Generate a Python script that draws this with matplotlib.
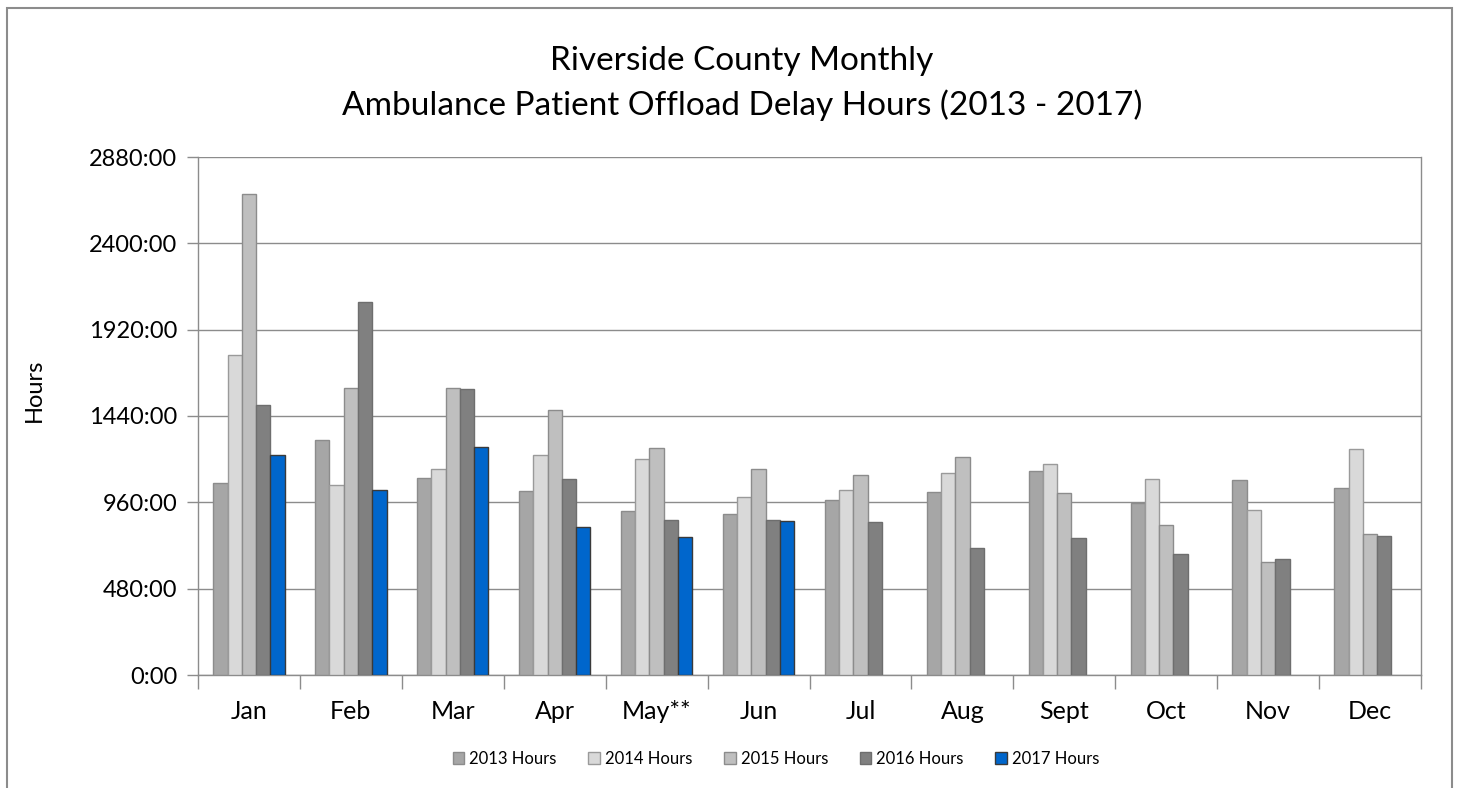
import numpy as np
import matplotlib.pyplot as plt
from matplotlib.patches import Rectangle
from matplotlib.ticker import FixedLocator, FuncFormatter

plt.rcParams['font.family'] = ['Lato', 'DejaVu Sans']

months = ['Jan', 'Feb', 'Mar', 'Apr', 'May**', 'Jun', 'Jul', 'Aug', 'Sept', 'Oct', 'Nov', 'Dec']
series_names = ['2013 Hours', '2014 Hours', '2015 Hours', '2016 Hours', '2017 Hours']

hours_2013 = [1065, 1307, 1094, 1023, 912, 897, 975, 1017, 1134, 954, 1084, 1041]
hours_2014 = [1778, 1058, 1146, 1222, 1203, 991, 1027, 1125, 1175, 1090, 919, 1255]
hours_2015 = [2677, 1596, 1596, 1472, 1260, 1147, 1112, 1212, 1010, 834, 626, 782]
hours_2016 = [1500, 2075, 1588, 1088, 862, 862, 849, 706, 762, 671, 647, 771]
hours_2017 = [1222, 1031, 1267, 822, 769, 854]

colors = ['#a6a6a6', '#d9d9d9', '#bfbfbf', '#808080', '#0066cc']
edges = ['#8c8c8c', '#9a9a9a', '#8c8c8c', '#6e6e6e', '#3a3a3a']

fig = plt.figure(figsize=(14.61, 7.88), dpi=100)
ax = fig.add_axes([198 / 1461, 1 - 675 / 788, (1421 - 198) / 1461, (675 - 157) / 788])

x = np.arange(len(months))
width = 0.14
all_series = [hours_2013, hours_2014, hours_2015, hours_2016, hours_2017]
for i, vals in enumerate(all_series):
    xs = x[:len(vals)] + (i - 2) * width
    ax.bar(xs, vals, width=width, color=colors[i], edgecolor=edges[i],
           linewidth=1.0, label=series_names[i], zorder=3)

ax.set_xlim(-0.5, 11.5)
ax.set_ylim(0, 2880)
yt = [0, 480, 960, 1440, 1920, 2400, 2880]
ax.yaxis.set_major_locator(FixedLocator(yt))
ax.yaxis.set_major_formatter(FuncFormatter(lambda v, p: f"{int(v)}:00"))
ax.grid(axis='y', color='#8c8c8c', linewidth=1.0, zorder=0)

ax.set_xticks(x)
ax.set_xticklabels(months, fontsize=18)
ax.tick_params(axis='x', which='major', length=0, pad=18)
ax.set_xticks(np.arange(-0.5, 12, 1), minor=True)
ax.tick_params(axis='x', which='minor', length=10, color='#8c8c8c', width=1)
ax.tick_params(axis='y', length=8, color='#8c8c8c', width=1, labelsize=17, pad=7)

for s in ['left', 'bottom', 'right']:
    ax.spines[s].set_color('#8c8c8c')
    ax.spines[s].set_linewidth(1.0)
ax.spines['top'].set_visible(False)

ax.set_ylabel('Hours', fontsize=17)
ax.yaxis.set_label_coords(-0.125, 0.55)

fig.text(742 / 1461, 1 - 61 / 788, 'Riverside County Monthly', ha='center', va='center', fontsize=24)
fig.text(742 / 1461, 1 - 105 / 788, 'Ambulance Patient Offload Delay Hours (2013 - 2017)',
         ha='center', va='center', fontsize=24)

leg = fig.legend(loc='center', bbox_to_anchor=(776 / 1461, 1 - 759 / 788), ncol=5, frameon=False,
                 fontsize=12, handlelength=0.7, handleheight=0.7, handletextpad=0.3, columnspacing=1.9)

fig.add_artist(Rectangle((7 / 1461, -0.05), (1452 - 7) / 1461, 1.05 - 8 / 788,
                         transform=fig.transFigure, fill=False, edgecolor='#8c8c8c', linewidth=1.5))

fig.savefig('out.png', dpi=100, facecolor='white')
